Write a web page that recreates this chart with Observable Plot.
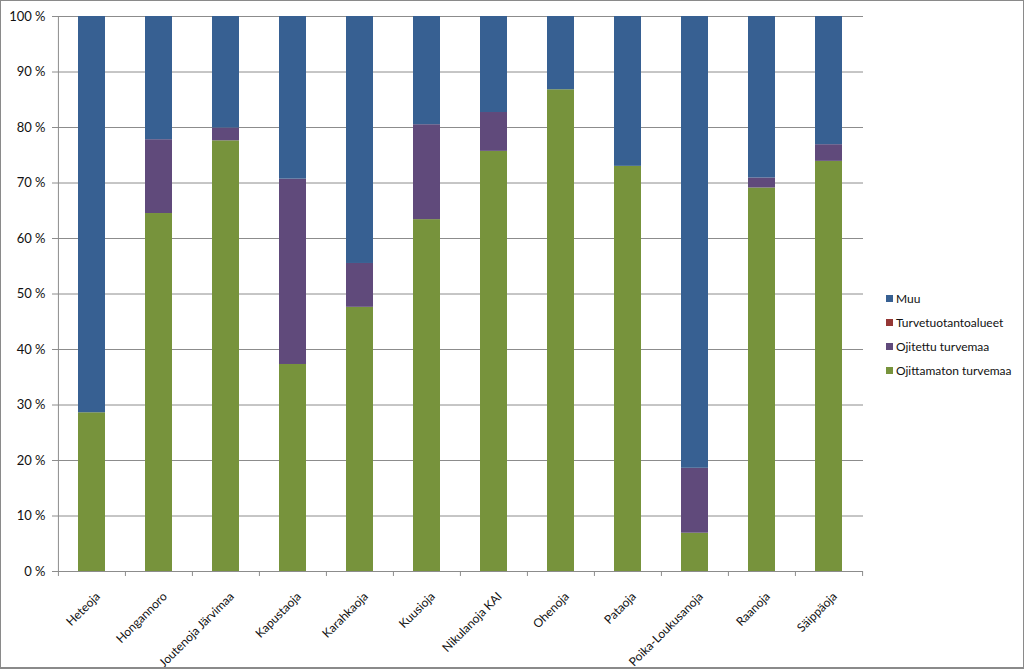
<!DOCTYPE html>
<html>
<head>
<meta charset="utf-8">
<script src="https://cdn.jsdelivr.net/npm/d3@7"></script>
<script src="https://cdn.jsdelivr.net/npm/@observablehq/plot@0.6"></script>
<style>
  html, body { margin: 0; padding: 0; background: #fff; }
  #wrap { position: relative; width: 1024px; height: 669px; overflow: hidden; font-family: Lato, "Liberation Sans", sans-serif; }
  #border { position: absolute; left: 0; top: 0; width: 1024px; height: 669px; box-sizing: border-box; border: 1px solid #8a8a8a; border-bottom-width: 2px; pointer-events: none; }
  #legend { position: absolute; left: 886px; top: 286px; font-size: 12px; color: #111; }
  .row { display: flex; align-items: center; height: 24.2px; }
  .sw { width: 7px; height: 7px; margin-right: 3px; }
</style>
</head>
<body>
<div id="wrap"><div id="chart"></div><div id="legend"></div><div id="border"></div></div>
<script>
const categories = ["Heteoja","Hongannoro","Joutenoja Järvimaa","Kapustaoja","Karahkaoja","Kuusioja","Nikulanoja KAI","Ohenoja","Pataoja","Poika-Loukusanoja","Raanoja","Säippäoja"];
const seriesNames = ["Ojittamaton turvemaa","Ojitettu turvemaa","Turvetuotantoalueet","Muu"];
const seriesColors = ["#77933C","#604A7B","#953735","#376092"];
const ojittamaton = [28.6, 64.5, 77.6, 37.3, 47.6, 63.4, 75.7, 86.8, 73.0, 6.9, 69.1, 73.9];
const ojitettu    = [0.0, 13.3, 2.3, 33.4, 7.9, 17.1, 7.0, 0.0, 0.0, 11.7, 1.8, 3.0];
const turvetuotanto = [0,0,0,0,0,0,0,0,0,0,0,0];
const muu = categories.map((c,i) => 100 - ojittamaton[i] - ojitettu[i] - turvetuotanto[i]);
const yTicks = [0,10,20,30,40,50,60,70,80,90,100];

const seriesValues = [ojittamaton, ojitettu, turvetuotanto, muu];
const data = [];
categories.forEach((c,i) => seriesNames.forEach((s,k) => data.push({cat: c, series: s, value: seriesValues[k][i]})));

const W = 1024, H = 669, mL = 57, mR = 161, mT = 16, mB = 98;
const step = (W - mL - mR) / categories.length;
const gray = "#8c8c8c";

const chart = Plot.plot({
  width: W, height: H,
  marginLeft: mL, marginRight: mR, marginTop: mT, marginBottom: mB,
  style: {fontFamily: "Lato, 'Liberation Sans', sans-serif", fontSize: "12px", background: "transparent", color: "#111"},
  x: {domain: categories, paddingInner: 0.6, paddingOuter: 0.3, axis: null},
  y: {domain: [0, 100], axis: null},
  color: {domain: seriesNames, range: seriesColors},
  marks: [
    Plot.gridY(yTicks, {stroke: gray, strokeOpacity: 1}),
    Plot.axisY(yTicks, {tickSize: 5, tickPadding: 7, stroke: gray, tickFormat: d => d + " %", fontSize: 13, fill: "#111", label: null}),
    Plot.ruleX([categories[0]], {x: d => d, y1: 0, y2: 100, dx: -step / 2, stroke: gray}),
    Plot.ruleX(categories, {x: d => d, y1: 0, y2: -0.9, dx: -step / 2, stroke: gray}),
    Plot.ruleX([categories[categories.length - 1]], {x: d => d, y1: 0, y2: -0.9, dx: step / 2, stroke: gray}),
    Plot.barY(data, Plot.stackY({x: "cat", y: "value", fill: "series", order: null})),
    Plot.text(categories, {x: d => d, y: 0, text: d => d, rotate: -45, textAnchor: "end", dx: 6, dy: 23, fontSize: 12, fill: "#111"})
  ]
});
document.getElementById("chart").appendChild(chart);

const legend = document.getElementById("legend");
seriesNames.slice().reverse().forEach((s) => {
  const k = seriesNames.indexOf(s);
  const row = document.createElement("div");
  row.className = "row";
  const sw = document.createElement("span");
  sw.className = "sw";
  sw.style.background = seriesColors[k];
  const t = document.createElement("span");
  t.textContent = s;
  row.appendChild(sw); row.appendChild(t);
  legend.appendChild(row);
});
</script>
</body>
</html>
